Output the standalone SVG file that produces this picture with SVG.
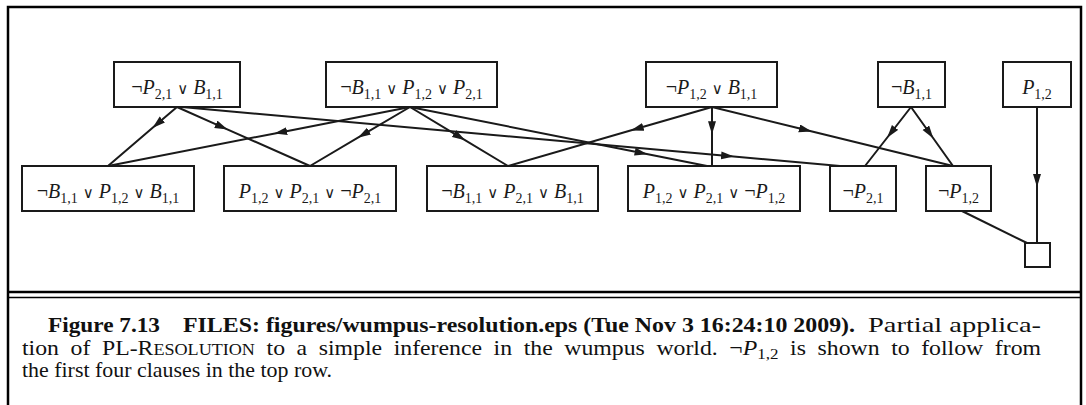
<svg xmlns="http://www.w3.org/2000/svg" width="1086" height="405" viewBox="0 0 1086 405">
<defs>
<style>
.box{fill:#fff;stroke:#1a1a1a;stroke-width:2}
.lbl{font-family:"Liberation Serif","DejaVu Serif",serif;font-size:20px;fill:#1a1a1a;text-anchor:middle}
.it{font-style:italic}
.sb{font-size:14px}
.or{font-family:"DejaVu Serif",serif;font-size:15px}
.edge{fill:none;stroke:#1a1a1a;stroke-width:2}
.frame{fill:none;stroke:#000;stroke-width:2.5}
.cap{font-family:"Liberation Serif","Times New Roman",serif;font-size:21px;fill:#111}
.b{font-weight:bold}
.sc{font-size:16px}
</style>
<marker id="arr" markerUnits="userSpaceOnUse" markerWidth="14" markerHeight="9" refX="7" refY="4" orient="auto">
<path d="M0,0 L13,4 L0,8 z" fill="#1a1a1a"/>
</marker>
</defs>
<g id="frame">
<path class="frame" d="M8,405 V7 H1081 V405"/>
<line x1="8" y1="292" x2="1081" y2="292" stroke="#000" stroke-width="2.5"/>
<line x1="8" y1="297.5" x2="1081" y2="297.5" stroke="#000" stroke-width="1.5"/>
</g>
<g id="connectors">
<polyline class="edge" marker-mid="url(#arr)" points="177,107 157,124.1 108,166"/>
<polyline class="edge" marker-mid="url(#arr)" points="177,107 222.2,127.1 310,166"/>
<polyline class="edge" marker-mid="url(#arr)" points="182,107 728.1,156 840,166"/>
<polyline class="edge" marker-mid="url(#arr)" points="410,107 280.1,132.4 108,166"/>
<polyline class="edge" marker-mid="url(#arr)" points="410,107 363,134.7 310,166"/>
<polyline class="edge" marker-mid="url(#arr)" points="410,107 460,137.1 508,166"/>
<polyline class="edge" marker-mid="url(#arr)" points="410,107 641.7,153 707,166"/>
<polyline class="edge" marker-mid="url(#arr)" points="712,107 636.5,128.8 508,166"/>
<polyline class="edge" marker-mid="url(#arr)" points="712,107 712,128.2 712,166"/>
<polyline class="edge" marker-mid="url(#arr)" points="712,107 806,130 953,166"/>
<polyline class="edge" marker-mid="url(#arr)" points="911,107 890.8,133 865,166"/>
<polyline class="edge" marker-mid="url(#arr)" points="911,107 929.9,133.5 953,166"/>
<polyline class="edge" marker-mid="url(#arr)" points="1037,107 1037,181 1037,243"/>
<line class="edge" x1="962" y1="211" x2="1027" y2="243"/>
</g>
<g id="t1"><rect class="box" x="114" y="62" width="126" height="45"/>
<text class="lbl" x="177" y="94">¬<tspan class="it">P</tspan><tspan class="sb" dy="5">2,1</tspan><tspan dy="-5"> <tspan class="or">∨</tspan> </tspan><tspan class="it">B</tspan><tspan class="sb" dy="5">1,1</tspan></text></g>
<g id="t2"><rect class="box" x="326" y="62" width="171" height="45"/>
<text class="lbl" x="411.5" y="94">¬<tspan class="it">B</tspan><tspan class="sb" dy="5">1,1</tspan><tspan dy="-5"> <tspan class="or">∨</tspan> </tspan><tspan class="it">P</tspan><tspan class="sb" dy="5">1,2</tspan><tspan dy="-5"> <tspan class="or">∨</tspan> </tspan><tspan class="it">P</tspan><tspan class="sb" dy="5">2,1</tspan></text></g>
<g id="t3"><rect class="box" x="646" y="62" width="131" height="45"/>
<text class="lbl" x="711.5" y="94">¬<tspan class="it">P</tspan><tspan class="sb" dy="5">1,2</tspan><tspan dy="-5"> <tspan class="or">∨</tspan> </tspan><tspan class="it">B</tspan><tspan class="sb" dy="5">1,1</tspan></text></g>
<g id="t4"><rect class="box" x="878" y="62" width="67" height="45"/>
<text class="lbl" x="911.5" y="94">¬<tspan class="it">B</tspan><tspan class="sb" dy="5">1,1</tspan></text></g>
<g id="t5"><rect class="box" x="1003" y="62" width="68" height="45"/>
<text class="lbl" x="1037" y="94"><tspan class="it">P</tspan><tspan class="sb" dy="5">1,2</tspan></text></g>
<g id="b1"><rect class="box" x="22" y="166" width="172" height="45"/>
<text class="lbl" x="108" y="198">¬<tspan class="it">B</tspan><tspan class="sb" dy="5">1,1</tspan><tspan dy="-5"> <tspan class="or">∨</tspan> </tspan><tspan class="it">P</tspan><tspan class="sb" dy="5">1,2</tspan><tspan dy="-5"> <tspan class="or">∨</tspan> </tspan><tspan class="it">B</tspan><tspan class="sb" dy="5">1,1</tspan></text></g>
<g id="b2"><rect class="box" x="224" y="166" width="172" height="45"/>
<text class="lbl" x="310" y="198"><tspan class="it">P</tspan><tspan class="sb" dy="5">1,2</tspan><tspan dy="-5"> <tspan class="or">∨</tspan> </tspan><tspan class="it">P</tspan><tspan class="sb" dy="5">2,1</tspan><tspan dy="-5"> <tspan class="or">∨</tspan> ¬</tspan><tspan class="it">P</tspan><tspan class="sb" dy="5">2,1</tspan></text></g>
<g id="b3"><rect class="box" x="427" y="166" width="171" height="45"/>
<text class="lbl" x="512.5" y="198">¬<tspan class="it">B</tspan><tspan class="sb" dy="5">1,1</tspan><tspan dy="-5"> <tspan class="or">∨</tspan> </tspan><tspan class="it">P</tspan><tspan class="sb" dy="5">2,1</tspan><tspan dy="-5"> <tspan class="or">∨</tspan> </tspan><tspan class="it">B</tspan><tspan class="sb" dy="5">1,1</tspan></text></g>
<g id="b4"><rect class="box" x="628" y="166" width="172" height="45"/>
<text class="lbl" x="714" y="198"><tspan class="it">P</tspan><tspan class="sb" dy="5">1,2</tspan><tspan dy="-5"> <tspan class="or">∨</tspan> </tspan><tspan class="it">P</tspan><tspan class="sb" dy="5">2,1</tspan><tspan dy="-5"> <tspan class="or">∨</tspan> ¬</tspan><tspan class="it">P</tspan><tspan class="sb" dy="5">1,2</tspan></text></g>
<g id="b5"><rect class="box" x="830" y="166" width="66" height="45"/>
<text class="lbl" x="863" y="198">¬<tspan class="it">P</tspan><tspan class="sb" dy="5">2,1</tspan></text></g>
<g id="b6"><rect class="box" x="926" y="166" width="65" height="45"/>
<text class="lbl" x="958.5" y="198">¬<tspan class="it">P</tspan><tspan class="sb" dy="5">1,2</tspan></text></g>
<g id="empty"><rect class="box" x="1025" y="243" width="25" height="24"/></g>
<g id="caption">
<text class="cap b" x="48" y="332" textLength="112" lengthAdjust="spacingAndGlyphs">Figure 7.13</text>
<text class="cap b" x="183" y="332" textLength="672" lengthAdjust="spacingAndGlyphs">FILES: figures/wumpus-resolution.eps (Tue Nov 3 16:24:10 2009).</text>
<text class="cap" x="868" y="332" textLength="173" lengthAdjust="spacingAndGlyphs">Partial applica-</text>
<text class="cap" x="22" y="355" style="word-spacing:5px" textLength="1019" lengthAdjust="spacingAndGlyphs">tion of PL-R<tspan class="sc">ESOLUTION</tspan> to a simple inference in the wumpus world.  ¬<tspan font-style="italic">P</tspan><tspan font-size="15" dy="4">1,2</tspan><tspan dy="-4"> is shown to follow from</tspan></text>
<text class="cap" x="22" y="377" textLength="310" lengthAdjust="spacingAndGlyphs">the first four clauses in the top row.</text>
</g>
</svg>
